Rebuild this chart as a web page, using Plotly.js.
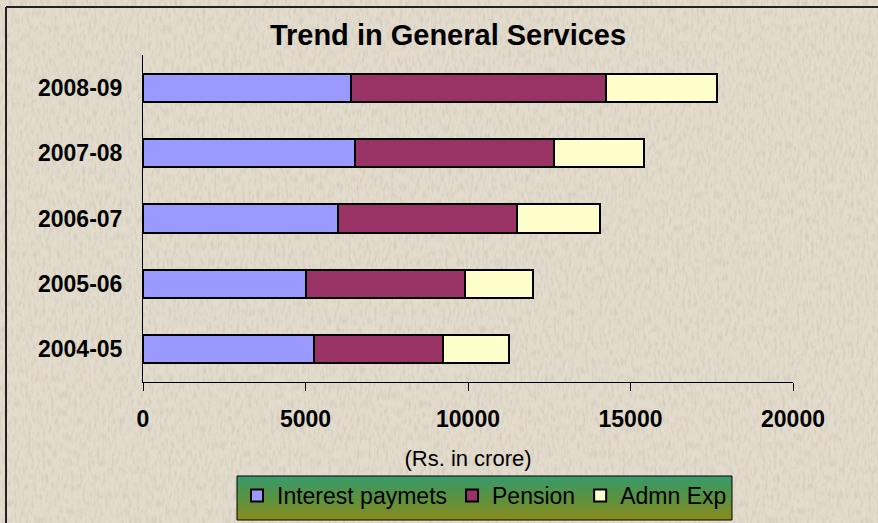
<!DOCTYPE html>
<html>
<head>
<meta charset="utf-8">
<script src="https://cdn.plot.ly/plotly-3.0.1.min.js"></script>
<style>
  html, body { margin: 0; padding: 0; background: #e2dacb; }
  #chart { width: 878px; height: 523px; }
</style>
</head>
<body>
<div id="chart"></div>
<script>
// ---- data (Rs. in crore) ----
const years = ['2004-05', '2005-06', '2006-07', '2007-08', '2008-09'];
const interestPayments = [5250, 5000, 5990, 6530, 6400];
const pension = [3980, 4900, 5510, 6130, 7850];
const admnExp = [2040, 2100, 2550, 2750, 3400];
const xTicks = [0, 5000, 10000, 15000, 20000];
const seriesNames = ['Interest paymets', 'Pension', 'Admn Exp'];
const seriesColors = ['#9999ff', '#993366', '#ffffcc'];

// ---- pixel geometry helpers (plot area: x 143..793, y 55..382) ----
const W = 878, H = 523, L = 143, R = 85, T = 55, B = 141;
const PW = W - L - R, PH = H - T - B;
const px = v => (v - L) / PW;
const py = v => (H - B - v) / PH;

const seriesValues = [interestPayments, pension, admnExp];
const traces = seriesValues.map((vals, i) => ({
  type: 'bar',
  orientation: 'h',
  name: seriesNames[i],
  y: years,
  x: vals,
  marker: { color: seriesColors[i], line: { color: '#000000', width: 2 } },
  hoverinfo: 'none'
}));

const grad = '<svg xmlns="http://www.w3.org/2000/svg" width="100" height="100" preserveAspectRatio="none">' +
  '<defs><linearGradient id="g" x1="0" y1="0" x2="0" y2="1">' +
  '<stop offset="0" stop-color="#369a6c"/><stop offset="0.5" stop-color="#5a9240"/><stop offset="1" stop-color="#8c8a1c"/>' +
  '</linearGradient></defs><rect width="100" height="100" fill="url(#g)"/></svg>';
const gradSrc = 'data:image/svg+xml;charset=utf-8,' + encodeURIComponent(grad);

// subtle paper texture for the background
const tex = '<svg xmlns="http://www.w3.org/2000/svg" width="878" height="523">' +
  '<filter id="n" x="0" y="0" width="100%" height="100%">' +
  '<feTurbulence type="fractalNoise" baseFrequency="0.35 0.12" numOctaves="3" seed="7"/>' +
  '<feColorMatrix type="matrix" values="0 0 0 0 0.45  0 0 0 0 0.42  0 0 0 0 0.36  0 0 0 -2.2 1.25"/>' +
  '</filter><rect width="878" height="523" filter="url(#n)" opacity="0.35"/></svg>';
const texSrc = 'data:image/svg+xml;charset=utf-8,' + encodeURIComponent(tex);

const legL = 237, legR = 732, legT = 476, legB = 520;

const layout = {
  width: W, height: H,
  margin: { l: L, r: R, t: T, b: B, pad: 0, autoexpand: false },
  paper_bgcolor: '#e3dccd',
  plot_bgcolor: 'rgba(0,0,0,0)',
  font: { family: '"Liberation Sans", Arial, sans-serif', color: '#000000', size: 22 },
  title: {
    text: 'Trend in General Services',
    font: { family: '"Liberation Sans", Arial, sans-serif', size: 29, weight: 'bold', color: '#000' },
    xref: 'container', x: 448 / W, xanchor: 'center',
    yref: 'container', y: 1 - 35 / H, yanchor: 'middle'
  },
  barmode: 'stack',
  bargap: 0.57,
  showlegend: true,
  legend: {
    orientation: 'h',
    x: px(legL), y: py(legT - 2), xanchor: 'left', yanchor: 'top',
    bgcolor: 'rgba(0,0,0,0)', borderwidth: 0,
    font: { size: 23, color: '#000' },
    traceorder: 'normal'
  },
  xaxis: {
    range: [0, 20000],
    tickvals: xTicks,
    ticktext: xTicks.map(String),
    ticks: 'outside', ticklen: 8, tickwidth: 1, tickcolor: '#000',
    showline: true, linecolor: '#000', linewidth: 1,
    showgrid: false, zeroline: false,
    tickfont: { size: 23, weight: 'bold' },
    ticklabelstandoff: 8,
    title: { text: '(Rs. in crore)', font: { size: 22 }, standoff: 20 },
    fixedrange: true
  },
  yaxis: {
    type: 'category',
    categoryorder: 'array', categoryarray: years,
    showline: true, linecolor: '#000', linewidth: 1,
    ticks: '', showgrid: false, zeroline: false,
    tickfont: { size: 23, weight: 'bold' },
    ticklabelstandoff: 15,
    fixedrange: true
  },
  images: [
    { source: texSrc, xref: 'paper', yref: 'paper',
      x: px(0), y: py(0), sizex: W / PW, sizey: H / PH,
      xanchor: 'left', yanchor: 'top', sizing: 'stretch', layer: 'below' },
    { source: gradSrc, xref: 'paper', yref: 'paper',
      x: px(legL), y: py(legT), sizex: (legR - legL) / PW, sizey: (legB - legT) / PH,
      xanchor: 'left', yanchor: 'top', sizing: 'stretch', layer: 'below' }
  ],
  shapes: [
    { type: 'rect', xref: 'paper', yref: 'paper', x0: px(legL), x1: px(legR), y0: py(legT), y1: py(legB),
      line: { color: '#000', width: 1 }, fillcolor: 'rgba(0,0,0,0)' },
    { type: 'line', xref: 'paper', yref: 'paper', x0: px(6), x1: px(W), y0: py(7), y1: py(7),
      line: { color: '#222', width: 2 } },
    { type: 'line', xref: 'paper', yref: 'paper', x0: px(6), x1: px(6), y0: py(7), y1: py(H),
      line: { color: '#222', width: 2 } }
  ]
};

Plotly.newPlot('chart', traces, layout, { staticPlot: true, displayModeBar: false });
</script>
</body>
</html>
